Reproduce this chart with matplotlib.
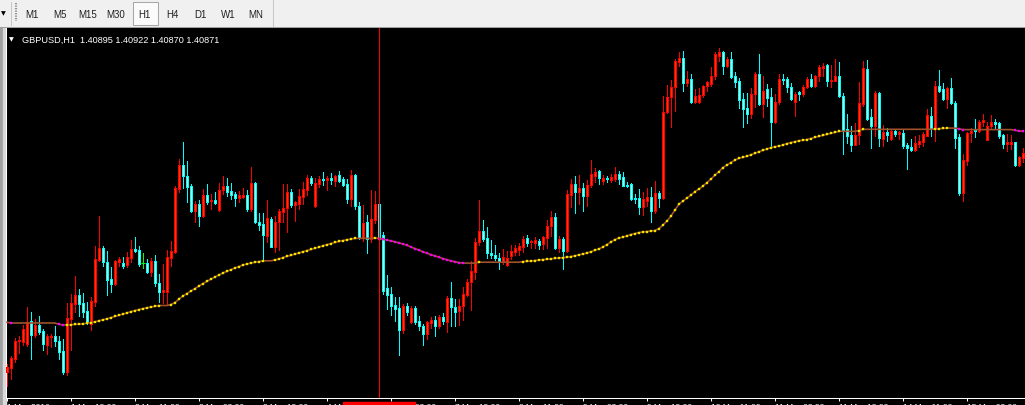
import matplotlib
matplotlib.use("Agg")
import matplotlib.pyplot as plt
from matplotlib.patches import Rectangle
from matplotlib.lines import Line2D
from matplotlib.transforms import blended_transform_factory
import numpy as np

# GBPUSD H1 bars, in pips (price * 10000)
opens = [
    13868, 13872, 13881, 13899, 13898, 13896, 13919, 13905, 13915, 13909,
    13895, 13903, 13904, 13899, 13889, 13868, 13921, 13936, 13945, 13937,
    13929, 13916, 13938, 13980, 13992, 13978, 13961, 13956, 13978, 13977,
    13975, 13982, 13991, 13990, 13977, 13977, 13968, 13979, 13957, 13948,
    13948, 13982, 13988, 14051, 14075, 14064, 14054, 14029, 14036, 14024,
    14045, 14039, 14040, 14030, 14050, 14054, 14049, 14046, 14042, 14043,
    14045, 14031, 14057, 14018, 14016, 14004, 14021, 13993, 14018, 14028,
    14032, 14048, 14035, 14036, 14043, 14050, 14062, 14034, 14056, 14061,
    14060, 14062, 14059, 14065, 14061, 14056, 14041, 14065, 14034, 14002,
    14018, 14001, 14020, 14036, 14005, 13952, 13946, 13935, 13932, 13910,
    13934, 13918, 13932, 13919, 13914, 13906, 13917, 13920, 13914, 13923,
    13918, 13942, 13933, 13929, 13934, 13945, 13958, 13968, 13998, 14009,
    14002, 13987, 13985, 13982, 13979, 13975, 13984, 13988, 13990, 13993,
    14002, 13998, 13997, 13999, 13996, 14002, 14014, 14023, 13992, 14001,
    13989, 14045, 14056, 14048, 14052, 14044, 14055, 14064, 14069, 14059,
    14062, 14060, 14061, 14066, 14063, 14055, 14056, 14042, 14042, 14033,
    14039, 14043, 14029, 14047, 14042, 14128, 14143, 14153, 14178, 14182,
    14157, 14161, 14138, 14138, 14145, 14154, 14156, 14164, 14184, 14188,
    14174, 14181, 14164, 14159, 14141, 14132, 14126, 14146, 14166, 14136,
    14151, 14143, 14118, 14138, 14161, 14161, 14153, 14138, 14148, 14146,
    14153, 14161, 14154, 14164, 14172, 14175, 14159, 14159, 14164, 14144,
    14111, 14105, 14095, 14105, 14136, 14171, 14123, 14114, 14147, 14101,
    14108, 14101, 14109, 14106, 14107, 14095, 14093, 14090, 14096, 14098,
    14104, 14124, 14111, 14154, 14151, 14141, 14152, 14137, 14103, 14047,
    14079, 14107, 14110, 14109, 14118, 14100, 14114, 14118, 14117, 14105,
    14096, 14096, 14098, 14075, 14082,
]
highs = [
    13876, 13884, 13902, 13904, 13915, 13933, 13928, 13921, 13924, 13911,
    13906, 13906, 13914, 13904, 13901, 13937, 13946, 13964, 13951, 13947,
    13938, 13943, 13994, 14024, 13994, 13989, 13973, 13980, 13983, 13983,
    13988, 14000, 14003, 13994, 13987, 13981, 13982, 13985, 13966, 13976,
    13990, 13999, 14054, 14081, 14098, 14079, 14056, 14039, 14040, 14051,
    14056, 14046, 14048, 14057, 14064, 14062, 14057, 14048, 14049, 14052,
    14050, 14073, 14058, 14027, 14027, 14040, 14023, 14024, 14031, 14056,
    14056, 14051, 14039, 14051, 14058, 14065, 14064, 14062, 14064, 14068,
    14064, 14067, 14065, 14069, 14063, 14061, 14070, 14066, 14038, 14035,
    14025, 14050, 14049, 14038, 14008, 13965, 13953, 13943, 13943, 13936,
    13937, 13934, 13934, 13924, 13916, 13919, 13923, 13924, 13925, 13927,
    13944, 13958, 13941, 13941, 13953, 13961, 13979, 14002, 14040, 14020,
    14013, 14000, 13995, 13987, 13991, 13989, 13995, 13995, 13997, 14004,
    14005, 14000, 14003, 14001, 14004, 14020, 14029, 14027, 14004, 14003,
    14050, 14061, 14064, 14065, 14057, 14060, 14080, 14072, 14070, 14065,
    14064, 14066, 14073, 14069, 14068, 14058, 14057, 14046, 14051, 14048,
    14052, 14053, 14059, 14049, 14144, 14155, 14160, 14181, 14188, 14189,
    14169, 14166, 14151, 14152, 14155, 14159, 14173, 14188, 14192, 14189,
    14183, 14188, 14168, 14162, 14147, 14147, 14152, 14168, 14186, 14164,
    14156, 14152, 14146, 14166, 14166, 14163, 14157, 14148, 14149, 14155,
    14163, 14166, 14165, 14175, 14177, 14176, 14175, 14181, 14178, 14147,
    14126, 14114, 14117, 14158, 14179, 14180, 14131, 14149, 14148, 14115,
    14112, 14110, 14111, 14109, 14111, 14097, 14101, 14104, 14105, 14108,
    14131, 14133, 14159, 14170, 14157, 14153, 14162, 14139, 14106, 14086,
    14108, 14112, 14121, 14120, 14126, 14118, 14125, 14121, 14118, 14106,
    14106, 14105, 14098, 14084, 14092,
]
lows = [
    13854, 13861, 13878, 13887, 13895, 13894, 13881, 13903, 13906, 13890,
    13886, 13893, 13894, 13881, 13866, 13865, 13890, 13928, 13924, 13923,
    13916, 13910, 13934, 13979, 13974, 13945, 13948, 13955, 13974, 13972,
    13973, 13978, 13988, 13974, 13972, 13967, 13964, 13954, 13938, 13937,
    13936, 13974, 13987, 14048, 14052, 14038, 14028, 14018, 14014, 14023,
    14036, 14031, 14036, 14029, 14046, 14044, 14041, 14034, 14038, 14042,
    14029, 14029, 14017, 14010, 13979, 13998, 13993, 13988, 13990, 14018,
    14008, 14033, 14019, 14031, 14036, 14045, 14055, 14033, 14053, 14055,
    14050, 14056, 14054, 14058, 14054, 14037, 14034, 14031, 14001, 13999,
    13987, 13998, 14017, 13996, 13946, 13931, 13925, 13919, 13885, 13907,
    13925, 13917, 13916, 13910, 13895, 13901, 13912, 13904, 13912, 13916,
    13908, 13914, 13914, 13915, 13920, 13944, 13930, 13961, 13995, 13999,
    13982, 13982, 13980, 13971, 13976, 13974, 13981, 13985, 13985, 13988,
    13994, 13992, 13992, 13991, 13991, 13992, 14004, 13991, 13988, 13971,
    13988, 14033, 14027, 14036, 14029, 14034, 14053, 14058, 14056, 14056,
    14058, 14058, 14059, 14056, 14054, 14053, 14040, 14037, 14026, 14025,
    14034, 14018, 14027, 14033, 14041, 14127, 14113, 14129, 14174, 14149,
    14154, 14137, 14137, 14137, 14143, 14149, 14154, 14161, 14179, 14166,
    14173, 14162, 14153, 14132, 14113, 14117, 14122, 14133, 14135, 14123,
    14134, 14092, 14117, 14136, 14156, 14148, 14140, 14124, 14140, 14144,
    14152, 14153, 14153, 14159, 14164, 14154, 14153, 14159, 14143, 14086,
    14097, 14089, 14095, 14096, 14134, 14120, 14092, 14104, 14094, 14094,
    14099, 14100, 14104, 14101, 14092, 14071, 14089, 14089, 14093, 14094,
    14104, 14104, 14099, 14148, 14140, 14132, 14136, 14092, 14045, 14039,
    14075, 14098, 14103, 14108, 14114, 14100, 14111, 14111, 14102, 14092,
    14089, 14091, 14074, 14074, 14078,
]
closes = [
    13873, 13882, 13899, 13900, 13911, 13918, 13905, 13915, 13908, 13896,
    13904, 13904, 13899, 13888, 13868, 13922, 13937, 13945, 13936, 13928,
    13918, 13939, 13981, 13992, 13978, 13960, 13956, 13979, 13981, 13974,
    13983, 13991, 13989, 13976, 13977, 13968, 13979, 13957, 13948, 13950,
    13983, 13989, 14052, 14075, 14064, 14053, 14029, 14036, 14024, 14045,
    14038, 14040, 14037, 14050, 14054, 14048, 14045, 14042, 14045, 14045,
    14031, 14057, 14018, 14015, 14005, 14022, 13993, 14018, 14029, 14032,
    14048, 14035, 14038, 14044, 14051, 14062, 14057, 14057, 14061, 14060,
    14062, 14060, 14064, 14059, 14055, 14041, 14065, 14034, 14002, 14017,
    14001, 14021, 14036, 14001, 13949, 13945, 13934, 13931, 13910, 13934,
    13928, 13932, 13918, 13914, 13906, 13918, 13920, 13914, 13923, 13919,
    13942, 13933, 13928, 13934, 13946, 13958, 13969, 13998, 14009, 14001,
    13987, 13985, 13982, 13979, 13983, 13982, 13989, 13992, 13994, 14001,
    13997, 13999, 14000, 13995, 14003, 14014, 14023, 13992, 14001, 13989,
    14046, 14056, 14048, 14052, 14044, 14055, 14066, 14068, 14062, 14062,
    14061, 14063, 14066, 14061, 14054, 14054, 14041, 14041, 14033, 14041,
    14043, 14029, 14047, 14042, 14128, 14143, 14153, 14179, 14182, 14157,
    14161, 14138, 14144, 14145, 14154, 14158, 14164, 14186, 14188, 14174,
    14181, 14163, 14158, 14140, 14131, 14126, 14146, 14166, 14136, 14149,
    14142, 14118, 14138, 14161, 14160, 14153, 14141, 14146, 14146, 14153,
    14161, 14154, 14164, 14173, 14174, 14159, 14160, 14164, 14144, 14110,
    14104, 14095, 14105, 14137, 14172, 14121, 14114, 14147, 14102, 14108,
    14105, 14109, 14106, 14108, 14094, 14092, 14090, 14097, 14099, 14106,
    14125, 14111, 14154, 14149, 14141, 14152, 14137, 14102, 14047, 14080,
    14107, 14109, 14109, 14118, 14120, 14114, 14118, 14116, 14104, 14096,
    14098, 14098, 14075, 14083, 14087,
]
# moving average indicator (brown line, yellow dots rising / magenta falling)
ma = [
    13917.7, 13917, 13917, 13917, 13917, 13917, 13917, 13917, 13917, 13917,
    13917, 13917, 13917, 13915.7, 13915.0, 13915.1, 13915.3, 13915.6, 13915.9, 13916.2,
    13916.7, 13917.4, 13918.2, 13919.2, 13920.2, 13921.2, 13922.4, 13923.7, 13924.8, 13926.0,
    13927.2, 13928.4, 13929.5, 13930.5, 13931.4, 13932.2, 13933.0, 13933.7, 13934.5, 13934.5,
    13934.5, 13935.5, 13937.5, 13941.0, 13944.0, 13946.5, 13949.0, 13951.5, 13954.0, 13956.5,
    13958.7, 13961.0, 13963.0, 13965.0, 13967.0, 13968.7, 13970.5, 13972.0, 13973.5, 13975.0,
    13976.0, 13977.0, 13977.7, 13978.4, 13979.2, 13979.2, 13979.2, 13980.0, 13981.0, 13982.5,
    13983.7, 13984.8, 13985.9, 13987.0, 13988.2, 13989.4, 13990.6, 13991.8, 13993.0, 13994.2,
    13995.4, 13996.5, 13997.6, 13998.6, 13999.5, 14000.3, 14001.0, 14001.6, 14001.6, 14001.6,
    14001.6, 14001.6, 14002.1, 14001.4, 14000.7, 14000.0, 13999.2, 13998.2, 13997.2, 13996.0,
    13994.7, 13993.0, 13991.4, 13989.8, 13988.2, 13986.7, 13985.3, 13984.0, 13982.7, 13981.4,
    13980.2, 13979.1, 13978.2, 13977.4, 13976.9, 13976.9, 13976.9, 13976.9, 13977.8, 13977.8,
    13977.8, 13977.8, 13977.8, 13977.8, 13977.8, 13977.8, 13977.8, 13977.8, 13977.8, 13978.4,
    13978.7, 13979.0, 13979.5, 13980.0, 13980.4, 13980.8, 13981.2, 13981.6, 13982.0, 13982.4,
    13982.8, 13983.5, 13984.2, 13985.2, 13986.0, 13987.0, 13988.2, 13989.8, 13991.2, 13993.0,
    13995.5, 13998.0, 14000.5, 14002.0, 14003.0, 14004.0, 14005.5, 14006.5, 14007.5, 14008.0,
    14008.5, 14009.0, 14009.5, 14011.5, 14015.0, 14019.0, 14024.0, 14030.0, 14036.0, 14039.0,
    14042.0, 14045.0, 14048.5, 14051.0, 14054.0, 14057.5, 14061.0, 14065.0, 14068.5, 14072.5,
    14075.0, 14077.5, 14080.0, 14081.7, 14082.8, 14083.8, 14085.3, 14086.8, 14088.3, 14089.7,
    14091.0, 14092.5, 14093.2, 14094.0, 14095.0, 14096.5, 14097.4, 14098.4, 14099.2, 14099.8,
    14100.5, 14101.5, 14102.7, 14103.7, 14104.7, 14105.8, 14106.8, 14107.8, 14108.7, 14108.7,
    14108.7, 14108.7, 14108.7, 14109.5, 14110.7, 14110.7, 14110.7, 14110.7, 14110.7, 14110.7,
    14110.7, 14110.7, 14110.7, 14110.7, 14110.7, 14110.7, 14110.7, 14110.7, 14110.7, 14110.7,
    14110.7, 14110.7, 14111.0, 14111.3, 14111.6, 14111.9, 14111.9, 14111.9, 14111.2, 14110.4,
    14110.4, 14110.4, 14110.4, 14110.4, 14110.4, 14110.4, 14110.4, 14110.4, 14110.4, 14110.4,
    14110.4, 14110.4, 14109.7, 14109.0, 14108.7,
]

tick_bars = [0, 16, 32, 48, 64, 80, 96, 112, 128, 144, 160, 176, 192, 208, 224, 240]
tick_labels = ['1 Mar 2016', '1 Mar 19:00', '2 Mar 11:00', '3 Mar 03:00', '3 Mar 19:00',
               '4 Mar 11:00', '7 Mar 03:00', '7 Mar 19:00', '8 Mar 11:00', '9 Mar 03:00',
               '9 Mar 19:00', '10 Mar 11:00', '11 Mar 03:00', '11 Mar 19:00',
               '14 Mar 11:00', '15 Mar 03:00']
cursor_bar = 93
cursor_label = '4 Mar 2016 23:00'
title = 'GBPUSD,H1  1.40895 1.40922 1.40870 1.40871'
timeframes = ['M1', 'M5', 'M15', 'M30', 'H1', 'H4', 'D1', 'W1', 'MN']
active_tf = 'H1'

o = np.array(opens) / 1e4
h = np.array(highs) / 1e4
l = np.array(lows) / 1e4
c = np.array(closes) / 1e4
m = np.array(ma) / 1e4
x = np.arange(len(c))

W, H = 1025, 406
fig = plt.figure(figsize=(W / 100, H / 100), dpi=100, facecolor='#f0f0f0')
ax = fig.add_axes([6 / W, 7 / H, 1019 / W, 370 / H], facecolor='black')

up = c > o
down = c < o
doji = c == o

wick_col = np.where(up, '#ff0000', np.where(down, '#00ffff', '#00ff00'))
ax.vlines(x, l, h, colors=wick_col, lw=0.72, antialiased=False, zorder=2)

body = np.maximum(np.abs(c - o), 0.00008)
bottom = np.minimum(o, c)
ax.bar(x[up], body[up], bottom=bottom[up], width=0.5, color='#ff3300',
       edgecolor='#ff0000', linewidth=0.72, antialiased=False, zorder=3)
ax.bar(x[down], body[down], bottom=bottom[down], width=0.5, color='#b8f8dc',
       edgecolor='#00ffff', linewidth=0.72, antialiased=False, zorder=3)
ax.hlines(c[doji], x[doji] - 0.4, x[doji] + 0.4, colors='#00ff00', lw=0.72, zorder=3)

# moving average with slope colored dots
ax.plot(x, m, color='#a0522d', lw=1.2, zorder=4)
dm = np.diff(m, prepend=m[0])
rising = dm > 0
falling = dm < 0
ax.plot(x[rising], m[rising], 's', ms=1.9, mfc='#ffff00', mec='#d0b800', mew=0.3, zorder=5)
ax.plot(x[falling], m[falling], 's', ms=1.9, mfc='#ff00ff', mec='#d800d8', mew=0.3, zorder=5)

ax.axvline(cursor_bar, color='#ff0000', lw=0.72, zorder=6)

ax.set_xlim(-0.25, 254.5)
ax.set_ylim(1.3842, 1.4212)
ax.set_yticks([])
ax.set_xticks(tick_bars, tick_labels)
ax.tick_params(axis='x', colors='white', length=2.3, width=0.75, pad=1.5, labelsize=6)
for lbl in ax.get_xticklabels():
    lbl.set_ha('left')
    lbl.set_family('Liberation Sans')
for s in ['top', 'right']:
    ax.spines[s].set_visible(False)
for s in ['left', 'bottom']:
    ax.spines[s].set_color('white')
    ax.spines[s].set_linewidth(0.75)

# time label of the vertical line
tr = blended_transform_factory(ax.transData, fig.transFigure)
ax.text(cursor_bar, -2.5 / H, cursor_label, transform=tr, ha='center', va='center',
        color='white', fontsize=6, family='Liberation Sans', clip_on=False,
        bbox=dict(boxstyle='square,pad=0.3', fc='#ff0000', ec='#ff0000'), zorder=7)

# chart header
fig.text(9 / W, 1 - 40 / H, '▼', color='white', fontsize=4.5, family='DejaVu Sans',
         va='center', ha='left')
fig.text(22 / W, 1 - 40.5 / H, title, color='white', fontsize=6.6,
         family='Liberation Sans', va='center', ha='left')

# surrounding window parts
fig.add_artist(Rectangle((6 / W, 0), 1019 / W, 7 / H, transform=fig.transFigure,
                         color='black', zorder=-1))
fig.add_artist(Rectangle((0, 0), 3 / W, 377 / H, transform=fig.transFigure,
                         color='#a0a0a0', zorder=-1))
fig.add_artist(Rectangle((3 / W, 0), 2.5 / W, 377 / H, transform=fig.transFigure,
                         color='#d8d8d8', zorder=-1))
fig.add_artist(Line2D([0, 1], [1 - 28 / H, 1 - 28 / H], transform=fig.transFigure,
                      color='#a0a0a0', lw=0.75))

# timeframe toolbar
fig.text(1 / W, 1 - 14 / H, '▼', color='black', fontsize=4.5, family='DejaVu Sans',
         va='center', ha='left')
fig.add_artist(Line2D([11 / W, 11 / W], [1 - 3 / H, 1 - 26 / H], transform=fig.transFigure,
                      color='#c8c8c8', lw=0.75))
fig.add_artist(Line2D([16 / W, 16 / W], [1 - 4 / H, 1 - 22 / H], transform=fig.transFigure,
                      color='#909090', lw=1.5, ls=(0, (0.6, 0.6))))
fig.add_artist(Line2D([273 / W, 273 / W], [1, 1 - 27 / H], transform=fig.transFigure,
                      color='#c8c8c8', lw=0.75))
for k, tf in enumerate(timeframes):
    cx = 32 + 28 * k
    if tf == active_tf:
        fig.add_artist(Rectangle(((cx - 11) / W, 1 - 26 / H), 25 / W, 23 / H,
                                 transform=fig.transFigure, fc='#fbfbfb',
                                 ec='#a8a8a8', lw=0.75))
    fig.text(cx / W, 1 - 15 / H, tf, color='#202020', fontsize=7,
             family='Liberation Sans', ha='center', va='center')

fig.savefig('out.png', dpi=100, facecolor=fig.get_facecolor())
